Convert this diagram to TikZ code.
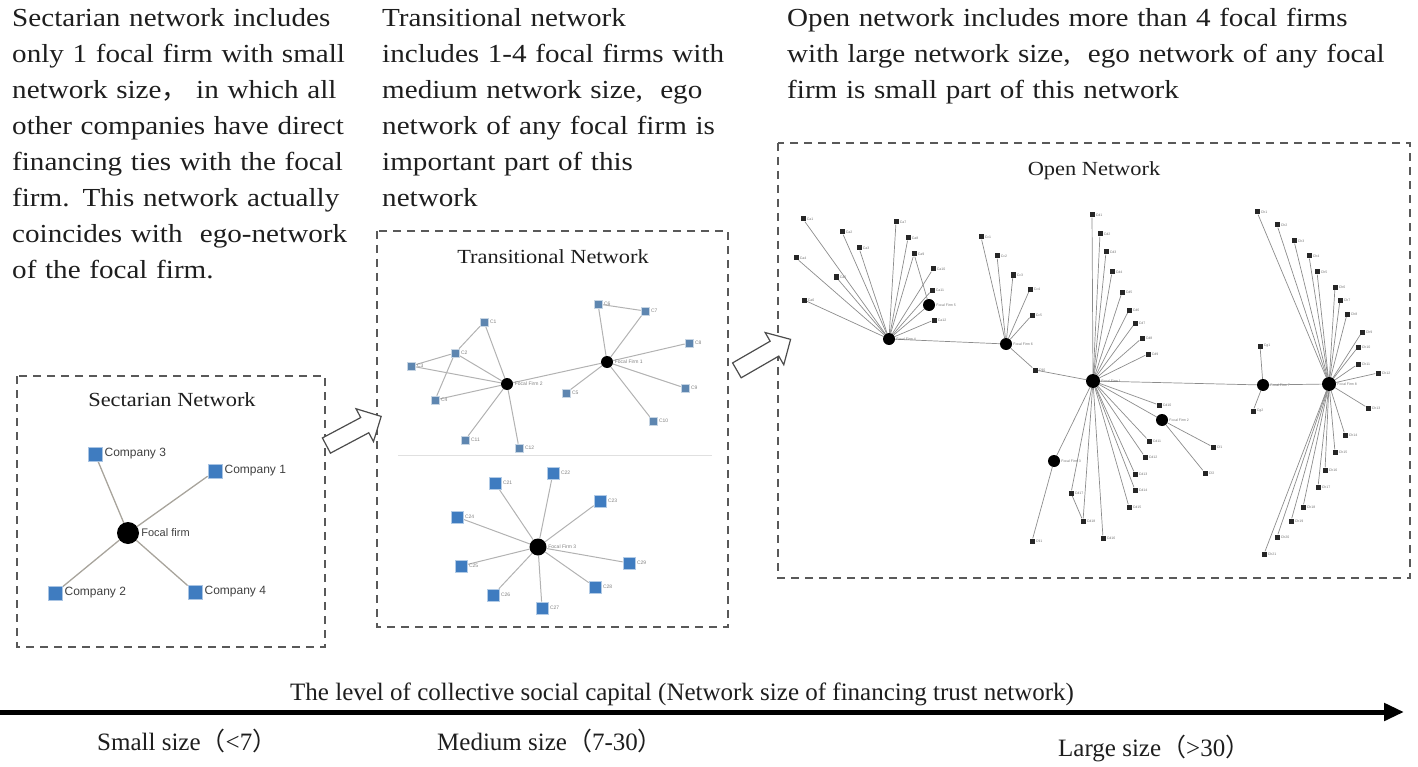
\documentclass[tikz,border=0pt]{standalone}
\usepackage{fontspec}
\setmainfont{Liberation Serif}[FakeStretch=1.12]
\newfontfamily\axfont{Liberation Serif}
\newfontfamily\lab{Liberation Sans}
\newfontfamily\cjk{Noto Sans CJK SC}
\usetikzlibrary{arrows.meta,shapes.arrows,backgrounds}
\definecolor{sqblue}{HTML}{3F7CC0}
\definecolor{tblue}{HTML}{5E86B0}
\definecolor{txt}{HTML}{1E1E1E}
\definecolor{sline}{HTML}{A8A49C}
\newcommand\jl[1]{\makebox[345pt][s]{#1}}
\newcommand\oleaves[3]{%
  \foreach \px/\py [count=\i] in {#3} {%
    \node[osq, label={[olbl]right:C#2\i}] (#2\i) at (\px,\py) {};
    \begin{scope}[on background layer]\draw[oedge] (#1) -- (#2\i);\end{scope}
  }}
\begin{document}
\begin{tikzpicture}[x=1pt,y=-1pt,
  box/.style={draw=black!65, line width=1.2pt, dash pattern=on 8pt off 6pt},
  sedge/.style={draw=sline, line width=1.3pt},
  tedge/.style={draw=black!30, line width=1pt},
  oedge/.style={draw=black!45, line width=0.7pt},
  ssq/.style={rectangle, fill=sqblue, draw=sqblue!45, line width=0.8pt, minimum size=14pt, inner sep=0},
  tsq/.style={rectangle, fill=tblue, draw=tblue!35, line width=0.6pt, minimum size=8pt, inner sep=0},
  tsqb/.style={rectangle, fill=sqblue, draw=sqblue!40, line width=0.6pt, minimum size=12pt, inner sep=0},
  osq/.style={rectangle, fill=black!85, minimum size=5pt, inner sep=0},
  hub/.style={circle, fill=black, inner sep=0, minimum size=12pt},
  slbl/.style={font=\lab\fontsize{12}{12}\selectfont, text=black!75, inner sep=2pt},
  tlbl/.style={font=\lab\fontsize{5}{5}\selectfont, text=black!50, inner sep=1.5pt},
  olbl/.style={font=\lab\fontsize{3.5}{4}\selectfont, text=black!55, inner sep=1pt},
  ttl/.style={font=\fontsize{20}{20}\selectfont, text=txt},
  big/.style={font=\fontsize{26}{36}\selectfont, text=txt, inner sep=0, anchor=base west, align=left},
  axl/.style={font=\axfont\fontsize{25}{26}\selectfont, text=txt, inner sep=0, anchor=base west},
  blockarrow/.style={single arrow, draw=black!70, line width=1.2pt, fill=white, minimum height=62pt,
    single arrow head extend=10pt, inner sep=0pt, single arrow tip angle=90}
]
\useasboundingbox (0,0) rectangle (1418,767);

% ---------- descriptive texts ----------
\node[big, text width=345pt] (t1) at (12,27) {\jl{Sectarian network includes}\\
\jl{only 1 focal firm with small}\\
\jl{network size{\cjk ，} in which all}\\
\jl{other companies have direct}\\
\jl{financing ties with the focal}\\
\jl{firm. This network actually}\\
\jl{coincides with\ \ ego-network}\\
of the focal firm.};

\node[big, text width=370pt] (t2) at (382,27) {Transitional network\\
includes 1-4 focal firms with\\
medium network size,\ \ ego\\
network of any focal firm is\\
important part of this\\
network};

\node[big, text width=625pt] (t3) at (787,27) {Open network includes more than 4 focal firms\\
with large network size,\ \ ego network of any focal\\
firm is small part of this network};

% ---------- boxes ----------
\draw[box] (17,376) rectangle (325,647);
\draw[box] (377,231) rectangle (728,627);
\draw[box] (778,143) rectangle (1410,578);

\node[ttl] (st) at (172,400) {Sectarian Network};
\node[ttl] (tt) at (553,257) {Transitional Network};
\node[ttl] (ot) at (1094,171) {Open Network};

% ---------- sectarian network ----------
\node[hub, minimum size=22pt, label={[slbl, font=\lab\fontsize{11}{11}\selectfont]0:Focal firm}] (sf) at (128,533) {};
\node[ssq, label={[slbl]right:Company 3}] (c3) at (95,454) {};
\node[ssq, label={[slbl]right:Company 1}] (c1) at (215,471) {};
\node[ssq, label={[slbl]right:Company 2}] (c2) at (55,593) {};
\node[ssq, label={[slbl]right:Company 4}] (c4) at (195,592) {};
\begin{scope}[on background layer]
\foreach \n in {c1,c2,c3,c4} \draw[sedge] (sf) -- (\n);
\end{scope}

% ---------- transitional network ----------
\draw[black!12, line width=1pt] (398,455) -- (712,455);
\node[hub, label={[tlbl]right:Focal Firm 2}] (f2) at (507,384) {};
\node[hub, label={[tlbl]right:Focal Firm 1}] (f1) at (607,362) {};
\node[tsq, label={[tlbl]right:C1}] (ta) at (484,322) {};
\node[tsq, label={[tlbl]right:C2}] (tb) at (455,353) {};
\node[tsq, label={[tlbl]right:C3}] (tc) at (411,366) {};
\node[tsq, label={[tlbl]right:C4}] (td) at (435,400) {};
\node[tsq, label={[tlbl]right:C5}] (te) at (566,393) {};
\node[tsq, label={[tlbl]right:C6}] (tf) at (598,304) {};
\node[tsq, label={[tlbl]right:C7}] (tg) at (645,311) {};
\node[tsq, label={[tlbl]right:C8}] (th) at (689,343) {};
\node[tsq, label={[tlbl]right:C9}] (ti) at (685,388) {};
\node[tsq, label={[tlbl]right:C10}] (tj) at (653,421) {};
\node[tsq, label={[tlbl]right:C11}] (tk) at (465,440) {};
\node[tsq, label={[tlbl]right:C12}] (tl) at (519,448) {};
\begin{scope}[on background layer]
\foreach \a/\b in {f2/ta,ta/tb,f2/tb,tb/tc,tb/td,f2/tc,f2/td,f2/tk,f2/tl,f2/f1,f1/te,f1/tf,f1/tg,tf/tg,f1/th,f1/ti,f1/tj}
  \draw[tedge] (\a) -- (\b);
\end{scope}

\node[hub, minimum size=17pt, label={[tlbl]right:Focal Firm 3}] (f3) at (538,547) {};
\foreach \px/\py [count=\i] in {495/483,553/473,600/501,457/517,461/566,493/595,542/608,595/587,629/563} {
  \node[tsqb, label={[tlbl]right:C2\i}] (u\i) at (\px,\py) {};
  \begin{scope}[on background layer]\draw[tedge] (f3) -- (u\i);\end{scope}
}

% ---------- block arrows ----------
\node[blockarrow, rotate=28] (ar1) at (350,433) {\rule{0pt}{16pt}};
\node[blockarrow, rotate=30] (ar2) at (760,357) {\rule{0pt}{16pt}};

% ---------- open network ----------
\node[hub, label={[olbl]right:Focal Firm 4}] (hA) at (889,339) {};
\node[hub, label={[olbl]right:Focal Firm 5}] (hB) at (929,305) {};
\node[hub, label={[olbl]right:Focal Firm 6}] (hC) at (1006,344) {};
\node[hub, minimum size=14pt, label={[olbl]right:Focal Firm 1}] (hD) at (1093,381) {};
\node[hub, label={[olbl]right:Focal Firm 3}] (hE) at (1054,461) {};
\node[hub, label={[olbl]right:Focal Firm 2}] (hF) at (1162,420) {};
\node[hub, label={[olbl]right:Focal Firm 7}] (hG) at (1263,385) {};
\node[hub, minimum size=14pt, label={[olbl]right:Focal Firm 8}] (hH) at (1329,384) {};
\oleaves{hA}{a}{803/219,842/232,859/248,796/258,836/277,804/300,896/222,908/238,914/254,933/269,932/290,934/320}
\oleaves{hC}{c}{981/237,997/256,1013/275,1030/289,1032/315}
\oleaves{hD}{d}{1092/215,1100/234,1106/252,1112/272,1122/292,1129/310,1135/323,1142/338,1148/354,1159/405,1149/441,1145/457,1135/474,1135/490,1129/507,1103/538,1071/493,1083/521}
\oleaves{hF}{f}{1213/447,1205/473}
\oleaves{hG}{g}{1260/346,1253/411}
\oleaves{hH}{h}{1257/212,1277/225,1294/241,1309/256,1317/272,1335/287,1340/300,1347/314,1362/332,1358/347,1358/364,1378/373,1368/408,1345/435,1335/452,1325/470,1318/487,1303/507,1291/521,1277/537,1264/554}
\node[osq, label={[olbl]right:C90}] (n1) at (1035,370) {};
\node[osq, label={[olbl]right:C91}] (n2) at (1032,541) {};
\begin{scope}[on background layer]
\foreach \a/\b in {hA/hB,a9/hB,hA/hC,hC/n1,n1/hD,hD/hE,hE/n2,d17/d18,hD/hF,hD/hG,hG/hH}
  \draw[oedge] (\a) -- (\b);
\end{scope}

% ---------- axis ----------
\coordinate (axL) at (0,712);
\coordinate (axR) at (1404,712);
\draw[line width=5pt, -{Triangle[length=20pt,width=17pt]}] (axL) -- (axR);
\node[axl] (axt) at (290,700) {The level of collective social capital (Network size of financing trust network)};
\node[axl] (s1) at (97,750) {Small size{\cjk （}<7{\cjk ）}};
\node[axl] (s2) at (437,750) {Medium size{\cjk （}7-30{\cjk ）}};
\node[axl] (s3) at (1058,756) {Large size{\cjk （}>30{\cjk ）}};
\end{tikzpicture}
\end{document}
